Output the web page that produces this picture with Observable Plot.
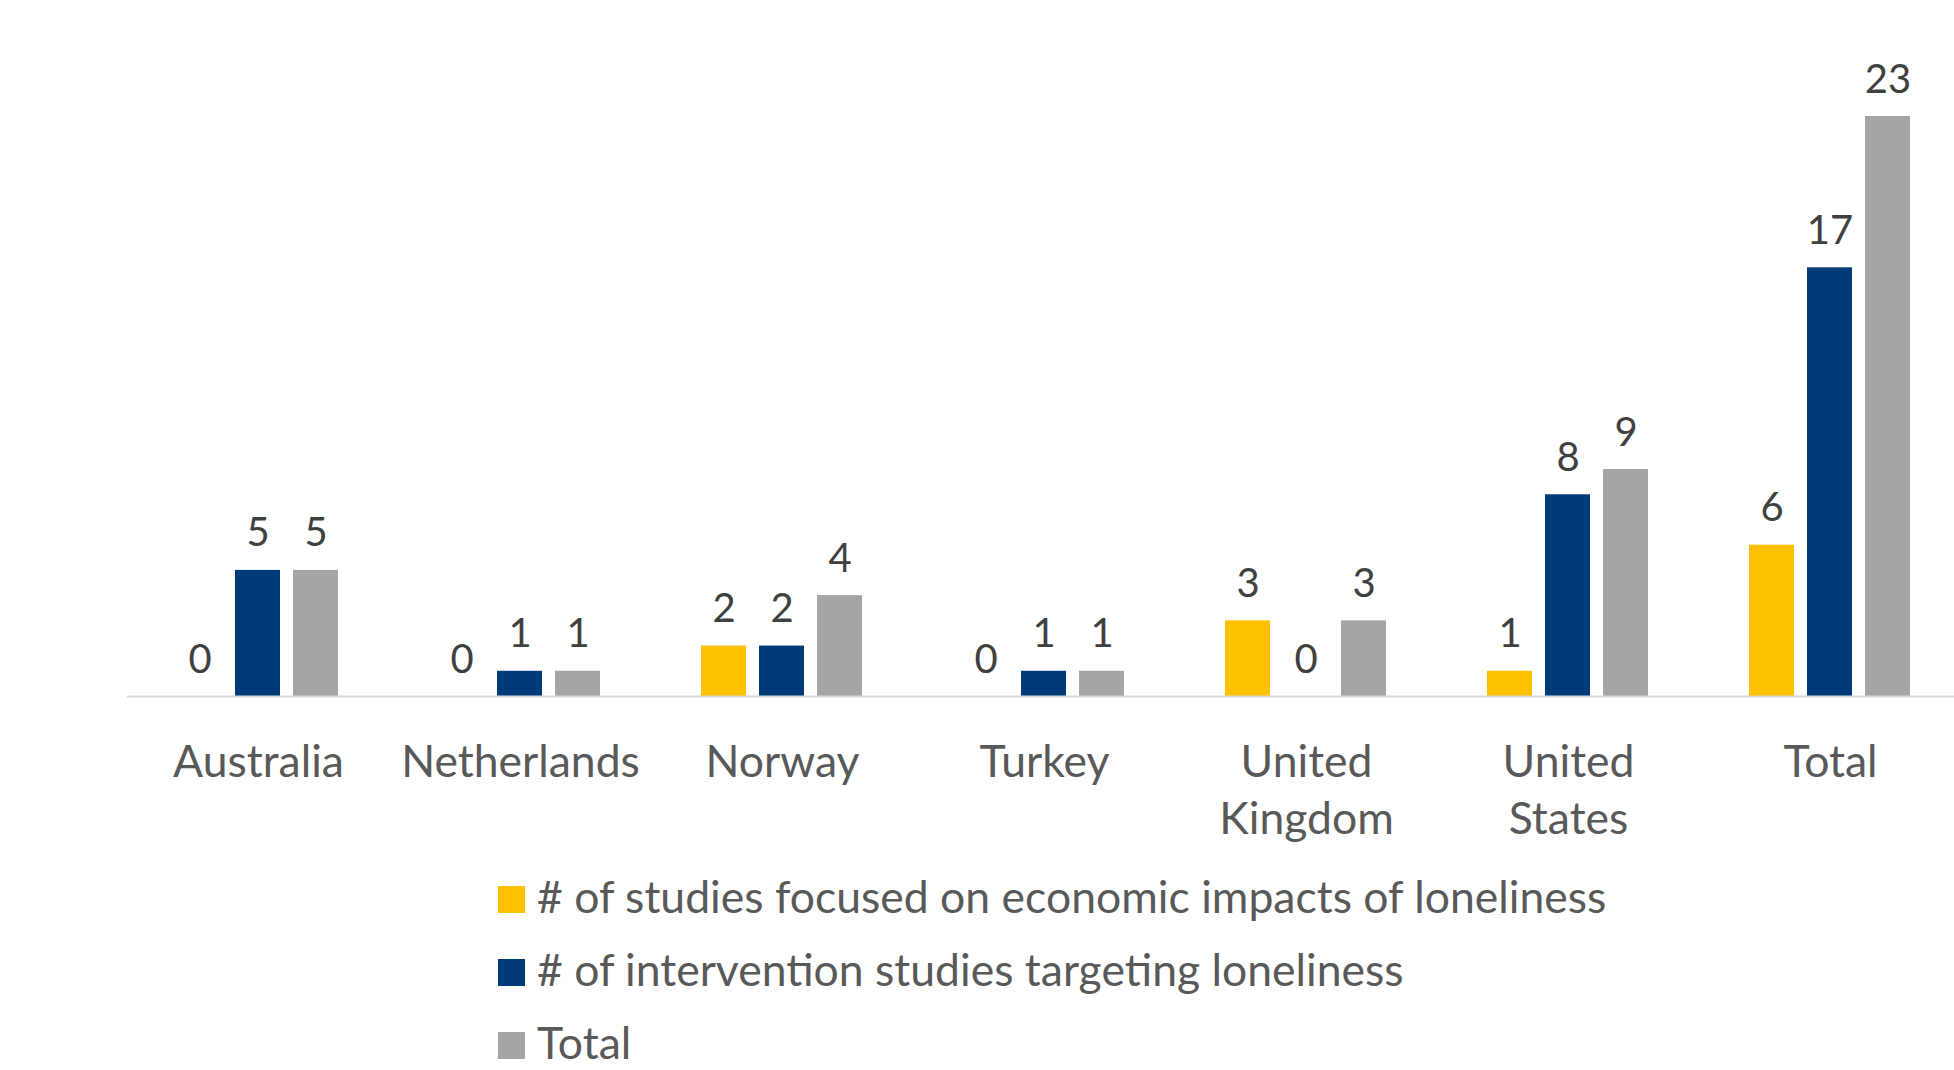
<!DOCTYPE html>
<html>
<head>
<meta charset="utf-8">
<script src="https://cdn.jsdelivr.net/npm/d3@7"></script>
<script src="https://cdn.jsdelivr.net/npm/@observablehq/plot@0.6"></script>
<style>
  html, body { margin: 0; padding: 0; background: #fff; }
  #chart svg { display: block; }
  #legend { padding-left: 498px; padding-top: 1px; font-family: Lato, sans-serif; font-size: 44.5px; color: #595959; }
  .row { height: 73px; line-height: 73px; white-space: nowrap; }
  .sw { display: inline-block; width: 27px; height: 27px; margin-right: 12px; vertical-align: baseline; }
</style>
</head>
<body>
<div id="chart"></div>
<div id="legend"></div>
<script>
const categories = ["Australia", "Netherlands", "Norway", "Turkey", "United Kingdom", "United States", "Total"];
const categoryLabels = ["Australia", "Netherlands", "Norway", "Turkey", "United\nKingdom", "United\nStates", "Total"];
const seriesNames = [
  "# of studies focused on economic impacts of loneliness",
  "# of intervention studies targeting loneliness",
  "Total"
];
const seriesColors = ["#FFC000", "#003B79", "#A5A5A5"];
const economic = [0, 0, 2, 0, 3, 1, 6];
const intervention = [5, 1, 2, 1, 0, 8, 17];
const totals = [5, 1, 4, 1, 3, 9, 23];

const seriesValues = [economic, intervention, totals];
const data = [];
categories.forEach((c, i) => {
  seriesNames.forEach((s, j) => {
    data.push({category: c, series: s, value: seriesValues[j][i]});
  });
});
const labelOf = new Map(categories.map((c, i) => [c, categoryLabels[i]]));

const chart = Plot.plot({
  width: 1954,
  height: 858,
  marginTop: 116,
  marginBottom: 162,
  marginLeft: 124,
  marginRight: 0,
  style: {fontFamily: "Lato, sans-serif", background: "#fff"},
  fx: {domain: categories, range: [124, 1964], paddingInner: 0, paddingOuter: 0, label: null},
  x: {domain: seriesNames, paddingInner: 0.22, paddingOuter: 0.865, axis: null},
  y: {domain: [0, 23], axis: null},
  color: {domain: seriesNames, range: seriesColors},
  marks: [
    Plot.barY(data, {fx: "category", x: "series", y: "value", fill: "series"}),
    Plot.ruleY([0], {stroke: "#D9D9D9", strokeWidth: 2}),
    Plot.text(data, {fx: "category", x: "series", y: "value", text: d => String(d.value),
      lineAnchor: "bottom", dy: -24, fontSize: 40, fill: "#404040"}),
    Plot.axisFx({anchor: "bottom", tickSize: 0, tickPadding: 40, fontSize: 44.5, lineHeight: 1.28,
      fill: "#595959", label: null, tickFormat: c => labelOf.get(c)})
  ]
});
document.getElementById("chart").appendChild(chart);

const legend = document.getElementById("legend");
seriesNames.forEach((s, j) => {
  const row = document.createElement("div");
  row.className = "row";
  const sw = document.createElement("span");
  sw.className = "sw";
  sw.style.background = seriesColors[j];
  row.appendChild(sw);
  row.appendChild(document.createTextNode(s));
  legend.appendChild(row);
});
</script>
</body>
</html>
